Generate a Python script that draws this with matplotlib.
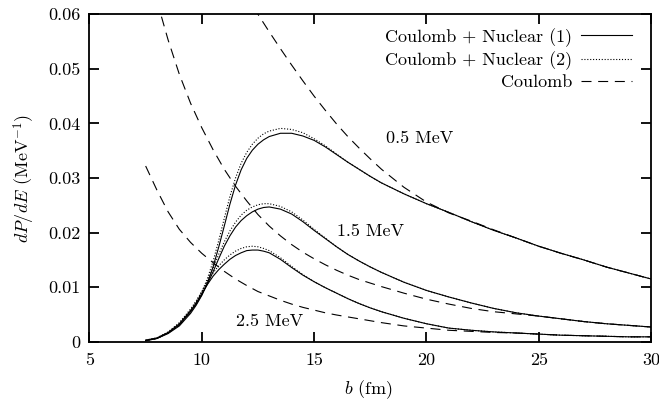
import numpy as np
import matplotlib
matplotlib.use("Agg")
import matplotlib.pyplot as plt

plt.rcParams["font.family"] = "serif"
plt.rcParams["font.serif"] = ["cmr10"]
plt.rcParams["mathtext.fontset"] = "cm"
plt.rcParams["axes.unicode_minus"] = False

# impact parameter grid for the Coulomb + Nuclear curves (fm)
b_nuc = [7.5, 8.0, 8.5, 9.0, 9.5, 9.75, 10.0, 10.25, 10.5, 10.75, 11.0, 11.25, 11.5, 11.75,
         12.0, 12.25, 12.5, 12.75, 13.0, 13.5, 14.0, 14.5, 15.0, 15.5, 16.0, 16.5, 17.0, 17.5,
         18.0, 19.0, 20.0, 21.0, 22.0, 23.0, 24.0, 25.0, 26.0, 27.0, 28.0, 29.0, 30.0]

# Coulomb + Nuclear (1), solid
n1_05 = [0.0002, 0.0006, 0.0015, 0.0029, 0.0052, 0.0067, 0.0085, 0.0108, 0.0137, 0.0173, 0.0212,
         0.0252, 0.0287, 0.0315, 0.0336, 0.0351, 0.0362, 0.0370, 0.0376, 0.0382, 0.0382, 0.0377,
         0.0369, 0.0357, 0.0343, 0.0329, 0.0316, 0.0303, 0.0291, 0.0271, 0.0253, 0.0237, 0.0220,
         0.0204, 0.0190, 0.0175, 0.0162, 0.0150, 0.0137, 0.0126, 0.0115]
n1_15 = [0.0002, 0.0006, 0.0016, 0.0031, 0.0055, 0.0069, 0.0086, 0.0106, 0.0128, 0.0152, 0.0175,
         0.0194, 0.0210, 0.0222, 0.0231, 0.0238, 0.0243, 0.0246, 0.0247, 0.0243, 0.0234, 0.0220,
         0.0204, 0.0189, 0.0174, 0.0160, 0.0148, 0.0137, 0.0127, 0.0109, 0.0094, 0.0082, 0.0071,
         0.0061, 0.0053, 0.0047, 0.0042, 0.0037, 0.0033, 0.0030, 0.0027]
n1_25 = [0.0003, 0.0007, 0.0017, 0.0033, 0.0057, 0.0071, 0.0088, 0.0105, 0.0120, 0.0132, 0.0142,
         0.0151, 0.0158, 0.0163, 0.0167, 0.0168, 0.0168, 0.0166, 0.0163, 0.0151, 0.0136, 0.0122,
         0.0110, 0.0099, 0.0089, 0.0079, 0.0070, 0.0062, 0.0055, 0.0043, 0.0033, 0.0025, 0.0021,
         0.0018, 0.0016, 0.0014, 0.0012, 0.0011, 0.0010, 0.0009, 0.0009]

# Coulomb + Nuclear (2), dotted
n2_05 = [0.0002, 0.0006, 0.0016, 0.0031, 0.0056, 0.0072, 0.0091, 0.0116, 0.0147, 0.0185, 0.0226,
         0.0266, 0.0300, 0.0327, 0.0347, 0.0362, 0.0373, 0.0381, 0.0386, 0.0391, 0.0389, 0.0383,
         0.0372, 0.0359, 0.0344, 0.0329, 0.0316, 0.0303, 0.0291, 0.0271, 0.0253, 0.0237, 0.0220,
         0.0204, 0.0190, 0.0175, 0.0162, 0.0150, 0.0137, 0.0126, 0.0115]
n2_15 = [0.0002, 0.0006, 0.0017, 0.0033, 0.0058, 0.0073, 0.0091, 0.0112, 0.0135, 0.0160, 0.0183,
         0.0203, 0.0219, 0.0232, 0.0241, 0.0247, 0.0251, 0.0253, 0.0253, 0.0248, 0.0238, 0.0223,
         0.0206, 0.0190, 0.0174, 0.0160, 0.0148, 0.0137, 0.0127, 0.0109, 0.0094, 0.0082, 0.0071,
         0.0061, 0.0053, 0.0047, 0.0042, 0.0037, 0.0033, 0.0030, 0.0027]
n2_25 = [0.0003, 0.0007, 0.0018, 0.0035, 0.0060, 0.0075, 0.0092, 0.0110, 0.0126, 0.0139, 0.0150,
         0.0159, 0.0166, 0.0171, 0.0174, 0.0175, 0.0174, 0.0171, 0.0167, 0.0154, 0.0138, 0.0123,
         0.0110, 0.0099, 0.0089, 0.0079, 0.0070, 0.0062, 0.0055, 0.0043, 0.0033, 0.0025, 0.0021,
         0.0018, 0.0016, 0.0014, 0.0012, 0.0011, 0.0010, 0.0009, 0.0009]

# Coulomb only, dashed
b_c_05 = [12.3, 12.5, 13.0, 13.5, 14.0, 14.5, 15.0, 15.5, 16.0, 16.5, 17.0, 17.5, 18.0, 19.0, 20.0,
          21.0, 22.0, 23.0, 24.0, 25.0, 26.0, 27.0, 28.0, 29.0, 30.0]
c_05 = [0.0613, 0.0600, 0.0568, 0.0537, 0.0507, 0.0478, 0.0450, 0.0424, 0.0399, 0.0376, 0.0355,
        0.0335, 0.0316, 0.0283, 0.0256, 0.0236, 0.0221, 0.0205, 0.0190, 0.0175, 0.0162, 0.0150,
        0.0137, 0.0126, 0.0115]

b_c_15 = [8.0, 8.5, 9.0, 9.5, 10.0, 10.5, 11.0, 11.5, 12.0, 12.5, 13.0, 13.5, 14.0, 14.5, 15.0,
          15.5, 16.0, 16.5, 17.0, 18.0, 19.0, 20.0, 21.0, 22.0, 23.0, 24.0, 25.0, 26.0, 27.0,
          28.0, 29.0, 30.0]
c_15 = [0.0625, 0.0553, 0.0490, 0.0437, 0.0392, 0.0352, 0.0316, 0.0285, 0.0258, 0.0233, 0.0212,
        0.0194, 0.0178, 0.0164, 0.0152, 0.0141, 0.0131, 0.0122, 0.0114, 0.0101, 0.0089, 0.0078,
        0.0069, 0.0061, 0.0055, 0.0051, 0.0047, 0.0042, 0.0037, 0.0033, 0.0030, 0.0027]

b_c_25 = [7.5, 8.0, 8.5, 9.0, 9.5, 10.0, 10.5, 11.0, 11.5, 12.0, 12.5, 13.0, 13.5, 14.0, 14.5,
          15.0, 15.5, 16.0, 17.0, 18.0, 19.0, 20.0, 21.0, 22.0, 23.0, 24.0, 25.0, 26.0, 27.0,
          28.0, 29.0, 30.0]
c_25 = [0.0322, 0.0278, 0.0238, 0.0206, 0.0182, 0.0162, 0.0145, 0.0129, 0.0115, 0.0103, 0.0092,
        0.0084, 0.0076, 0.0069, 0.0063, 0.0058, 0.0053, 0.0049, 0.0042, 0.0035, 0.0029, 0.0025,
        0.0021, 0.0019, 0.0017, 0.0016, 0.0014, 0.0012, 0.0011, 0.0010, 0.0009, 0.0009]

energy_labels = ["0.5 MeV", "1.5 MeV", "2.5 MeV"]
label_b = [19.7, 17.5, 13.0]
label_y = [0.0372, 0.0203, 0.0038]

x_ticks = [5, 10, 15, 20, 25, 30]
y_ticks = [0, 0.01, 0.02, 0.03, 0.04, 0.05, 0.06]
y_tick_labels = ["0", "0.01", "0.02", "0.03", "0.04", "0.05", "0.06"]

fig = plt.figure(figsize=(6.59, 4.03), dpi=100)
ax = fig.add_axes([0.1358, 0.152, 0.988 - 0.1358, 0.9645 - 0.152])

lw = 0.8
dash = (0, (9, 6))
dot = (0, (1, 1.6))

ax.plot(b_nuc, n1_05, color="black", lw=lw, label="Coulomb + Nuclear (1)")
ax.plot(b_nuc, n1_15, color="black", lw=lw)
ax.plot(b_nuc, n1_25, color="black", lw=lw)

ax.plot(b_nuc, n2_05, color="black", lw=lw, ls=dot, label="Coulomb + Nuclear (2)")
ax.plot(b_nuc, n2_15, color="black", lw=lw, ls=dot)
ax.plot(b_nuc, n2_25, color="black", lw=lw, ls=dot)

ax.plot(b_c_05, c_05, color="black", lw=lw, ls=dash, label="Coulomb")
ax.plot(b_c_15, c_15, color="black", lw=lw, ls=dash)
ax.plot(b_c_25, c_25, color="black", lw=lw, ls=dash)

for txt, xb, yv in zip(energy_labels, label_b, label_y):
    ax.text(xb, yv, txt, ha="center", va="center", fontsize=13)

ax.set_xlim(5, 30)
ax.set_ylim(0, 0.06)
ax.set_xticks(x_ticks)
ax.set_xticklabels([str(t) for t in x_ticks])
ax.set_yticks(y_ticks)
ax.set_yticklabels(y_tick_labels)
ax.tick_params(direction="in", length=7, width=1.3, top=True, right=True, labelsize=13)
ax.tick_params(axis="y", pad=6.5)
ax.tick_params(axis="x", pad=8)
for s in ax.spines.values():
    s.set_linewidth(1.3)

ax.set_xlabel(r"$b$ (fm)", fontsize=13)
ax.set_ylabel(r"$dP/dE$ (MeV$^{-1}$)", fontsize=13)
ax.xaxis.set_label_coords(0.496, -0.112)
ax.yaxis.set_label_coords(-0.094, 0.5)

ax.legend(loc="upper right", bbox_to_anchor=(0.99, 1.0), frameon=False, markerfirst=False,
          fontsize=13, handlelength=2.8, handletextpad=0.5, labelspacing=0.25,
          borderpad=0.2, borderaxespad=0.55)

fig.savefig("out.png", dpi=100)
